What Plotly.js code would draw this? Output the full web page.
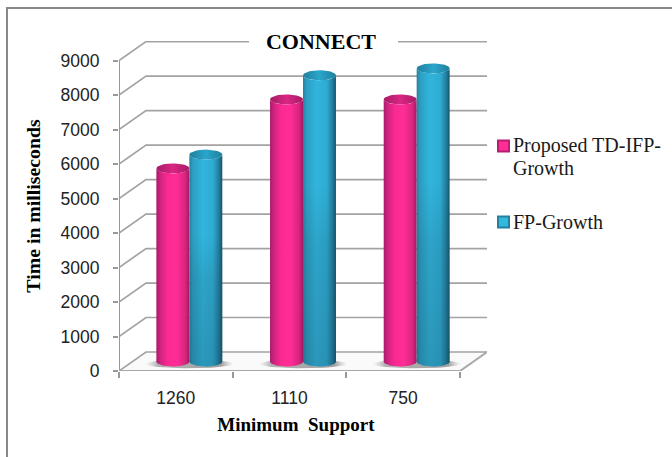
<!DOCTYPE html>
<html>
<head>
<meta charset="utf-8">
<script src="https://cdn.plot.ly/plotly-3.0.1.min.js"></script>
<style>html,body{margin:0;padding:0;background:#fff}#chart{width:672px;height:457px}</style>
</head>
<body>
<div id="chart"></div>
<script>
// Chart content
const categories = ['1260', '1110', '750'];
const proposedValues = [5600, 7600, 7600];
const fpGrowthValues = [6000, 8300, 8500];
const valueTicks = [0, 1000, 2000, 3000, 4000, 5000, 6000, 7000, 8000, 9000];
const chartTitle = 'CONNECT';
const xTitle = 'Minimum\u00a0\u00a0Support\u00a0\u00a0\u00a0';
const yTitle = 'Time in milliseconds';
const proposedLegend = ['Proposed TD-IFP-', 'Growth'];
const fpGrowthLegend = ['FP-Growth'];

// Page geometry of the plot box
const W = 672, H = 457;
const box = {l: 119, r: 487, t: 41, b: 371};
const xRange = [-0.5, 2.7375];
const yRange = [0, 9570];
const paperX = px => (px - box.l) / (box.r - box.l);
const paperY = py => (box.b - py) / (box.b - box.t);

// Pseudo-3D depth of the floor, in axis units
const depthX = 0.2375, depthY = 551;
const radiusX = 0.145, radiusY = 145;

const SERIF = '"Liberation Serif", serif';
const SANS = '"Liberation Sans", sans-serif';
const GRID = '#a3a3a3';

const traces = [];

function lineTrace(x, y, color, width) {
  traces.push({x, y, type: 'scatter', mode: 'lines', cliponaxis: false, hoverinfo: 'skip',
    showlegend: false, line: {color, width, simplify: false}});
}

// Floor plate
traces.push({
  x: [-0.5, 2.5, 2.5 + depthX, -0.5 + depthX, -0.5], y: [0, 0, depthY, depthY, 0],
  type: 'scatter', mode: 'lines', fill: 'toself', fillcolor: '#fafafa', line: {width: 0},
  cliponaxis: false, hoverinfo: 'skip', showlegend: false
});

// Wall grid lines run along the side wall, then across the back wall
valueTicks.forEach(v => {
  lineTrace([-0.5, -0.5 + depthX, 2.5 + depthX], [v, v + depthY, v + depthY], GRID, 1.7);
});
lineTrace([-0.5, -0.5], [0, 9000], '#999999', 2);
lineTrace([-0.5, 2.5, 2.5 + depthX], [0, 0, depthY], '#a8a8a8', 2);

function ellipse(cx, cy, rx, ry, from, to, n) {
  const xs = [], ys = [];
  for (let k = 0; k <= n; k++) {
    const a = from + (to - from) * k / n;
    xs.push(cx + rx * Math.cos(a));
    ys.push(cy + ry * Math.sin(a));
  }
  return [xs, ys];
}

function fillTrace(x, y, fillgradient, name) {
  traces.push({x, y, type: 'scatter', mode: 'lines', fill: 'toself', fillgradient,
    line: {width: 0}, cliponaxis: false, showlegend: false, name, hoverinfo: 'skip'});
}

function bodyOutline(cx, top) {
  const base = depthY / 2;
  const front = ellipse(cx, top, radiusX, radiusY, Math.PI, 2 * Math.PI, 24);
  const under = ellipse(cx, base, radiusX, radiusY, 2 * Math.PI, Math.PI, 24);
  return [front[0].concat(under[0], [front[0][0]]), front[1].concat(under[1], [front[1][0]])];
}

const pinkBody = [[0, '#a81a68'], [0.12, '#d0237f'], [0.35, '#fb2a92'], [0.62, '#ff2d95'], [0.88, '#d8247f'], [1, '#a01a60']];
const blueBody = [[0, '#26809f'], [0.1, '#2c9dc0'], [0.4, '#31b5dd'], [0.72, '#2fabd2'], [0.9, '#217c9c'], [1, '#155468']];
const blueShade = [[0, 'rgba(20,60,80,0.24)'], [0.42, 'rgba(20,60,80,0.14)'], [0.62, 'rgba(20,60,80,0)'], [1, 'rgba(20,60,80,0)']];

function cylinder(cx, value, body, capColor, name, shaded) {
  const top = value + depthY / 2;
  const outline = bodyOutline(cx, top);
  fillTrace(outline[0], outline[1], {type: 'horizontal', colorscale: body}, name);
  if (shaded) {
    fillTrace(outline[0], outline[1], {type: 'vertical', colorscale: blueShade}, name);
  }
  const cap = ellipse(cx, top, radiusX, radiusY, 0, 2 * Math.PI, 48);
  fillTrace(cap[0], cap[1], {type: 'horizontal', colorscale: capColor}, name);
}

// Soft contact shadows under each pair of cylinders
categories.forEach((c, i) => {
  const cx = i + depthX / 2;
  const s = ellipse(cx, depthY / 2 - 70, 0.39, 125, 0, 2 * Math.PI, 48);
  fillTrace(s[0], s[1], {type: 'horizontal', colorscale: [
    [0, 'rgba(190,190,190,0)'], [0.14, 'rgba(165,165,165,0.85)'],
    [0.86, 'rgba(150,150,150,0.9)'], [1, 'rgba(190,190,190,0)']]}, 'shadow');
});

categories.forEach((c, i) => {
  const cx = i + depthX / 2;
  cylinder(cx - radiusX, proposedValues[i], pinkBody,
    [[0, '#a51c66'], [0.5, '#d92683'], [1, '#a51c66']], 'Proposed TD-IFP-Growth', false);
  cylinder(cx + radiusX, fpGrowthValues[i], blueBody,
    [[0, '#1f7f9e'], [0.5, '#2aa6cb'], [1, '#1f7f9e']], 'FP-Growth', true);
});

// Legend swatches: bevelled squares, darker toward the edges
function swatch(py, inner, edge) {
  const rect = (half, color) => ({type: 'rect', xref: 'paper', yref: 'paper',
    x0: paperX(503.5 - half), x1: paperX(503.5 + half), y0: paperY(py + half), y1: paperY(py - half),
    fillcolor: color, line: {width: 0}, layer: 'above'});
  return [rect(6.5, edge), rect(4.5, inner)];
}

const legendNotes = [];
function legendLines(lines, py) {
  lines.forEach((t, k) => legendNotes.push({
    text: t, xref: 'paper', yref: 'paper', x: paperX(511), y: paperY(py + k * 22.5),
    xanchor: 'left', yanchor: 'middle', showarrow: false,
    font: {family: SERIF, size: 20, color: '#1a1a1a'}
  }));
}
legendLines(proposedLegend, 145.5);
legendLines(fpGrowthLegend, 221.5);

const layout = {
  width: W, height: H,
  margin: {l: box.l, r: W - box.r, t: box.t, b: H - box.b, pad: 0},
  paper_bgcolor: '#ffffff', plot_bgcolor: 'rgba(0,0,0,0)',
  showlegend: false,
  title: {text: '<b>' + chartTitle + '</b>', xref: 'container', yref: 'container',
    x: 321 / W, xanchor: 'center', y: 1 - 41 / H, yanchor: 'middle',
    font: {family: SERIF, size: 22, color: '#000000'}},
  xaxis: {
    range: xRange, tickmode: 'array', tickvals: [0, 1, 2], ticktext: categories,
    ticks: '', showgrid: false, zeroline: false, showline: false, ticklabelstandoff: 14,
    tickfont: {family: SANS, size: 17.5, color: '#222222'},
    minor: {tickmode: 'array', tickvals: [-0.5, 0.5, 1.5, 2.5], ticks: 'outside', ticklen: 6, tickwidth: 2, tickcolor: '#999999', showgrid: false},
    title: {text: '<b>' + xTitle + '</b>', standoff: 11, font: {family: SERIF, size: 19, color: '#000000'}}
  },
  yaxis: {
    range: yRange, tickmode: 'array', tickvals: valueTicks, ticktext: valueTicks.map(String),
    ticks: 'outside', ticklen: 5, tickwidth: 2, tickcolor: '#999999', ticklabelstandoff: 10,
    showgrid: false, zeroline: false, showline: false,
    tickfont: {family: SANS, size: 17.5, color: '#222222'},
    title: {text: '<b>' + yTitle + '</b>', standoff: 14, font: {family: SERIF, size: 19.8, color: '#000000'}}
  },
  shapes: [
    // gap in the top grid line behind the title
    {type: 'rect', xref: 'paper', yref: 'paper', x0: paperX(249), x1: paperX(398), y0: paperY(50), y1: paperY(32),
      fillcolor: '#ffffff', line: {width: 0}, layer: 'above'},
    // frame: top and left edges only
    {type: 'line', xref: 'paper', yref: 'paper', x0: paperX(7), x1: paperX(W), y0: paperY(8), y1: paperY(8),
      line: {color: '#888888', width: 2}},
    {type: 'line', xref: 'paper', yref: 'paper', x0: paperX(7), x1: paperX(7), y0: paperY(7), y1: paperY(H),
      line: {color: '#888888', width: 2}},
    ...swatch(146, '#ff2d95', '#b81f72'),
    ...swatch(222, '#33b8de', '#257f9e')
  ],
  annotations: legendNotes
};

Plotly.newPlot('chart', traces, layout, {displayModeBar: false, staticPlot: true});
</script>
</body>
</html>
